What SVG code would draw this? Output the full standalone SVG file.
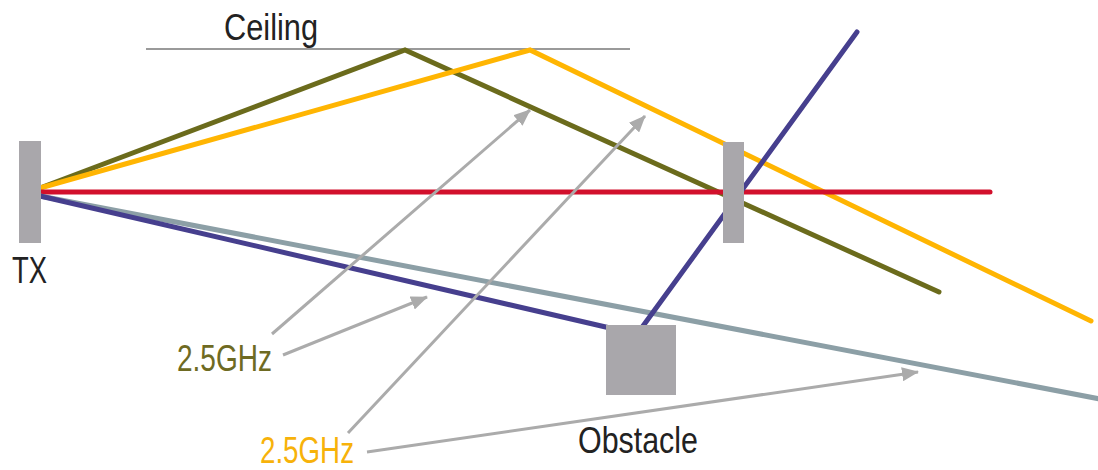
<svg xmlns="http://www.w3.org/2000/svg" width="1098" height="470" viewBox="0 0 1098 470">
<style>
.ray{fill:none;stroke-width:5;stroke-linecap:round;stroke-linejoin:miter}
.olive{stroke:#6b6b1c}
.yellow{stroke:#ffb502}
.red{stroke:#d2102c}
.blue{stroke:#463f8e}
.slate{stroke:#8c9fa6}
.ptr{stroke:#ababab;stroke-width:3;fill:none}
.block{fill:#a9a7ab}
.lbl{font-family:"Liberation Sans Narrow","Liberation Sans",Arial,sans-serif;font-size:36px;fill:#222}
</style>
<defs>
<marker id="ah" markerUnits="userSpaceOnUse" markerWidth="20" markerHeight="14" refX="16" refY="7" orient="auto">
<path d="M0,0 L17,7 L0,14 Z" fill="#ababab"/>
</marker>
</defs>
<rect width="1098" height="470" fill="#fff"/>
<g id="ceiling">
<line x1="146" y1="49" x2="630" y2="49" stroke="#9a9a9a" stroke-width="2"/>
<text class="lbl" x="224" y="40" textLength="94" lengthAdjust="spacingAndGlyphs">Ceiling</text>
</g>
<g id="connectors">
<polyline class="ray olive" points="40,188 405,50 939,292"/>
<polyline class="ray yellow" points="40,188 530,50 1091,321"/>
<line class="ray red" x1="40" y1="192" x2="990" y2="192"/>
<line class="ray slate" x1="40" y1="196" x2="1100" y2="399"/>
<line class="ray blue" x1="40" y1="196" x2="610" y2="328"/>
<line class="ray blue" x1="643" y1="326" x2="857" y2="32"/>
<line class="ptr" x1="272" y1="334" x2="530" y2="110" marker-end="url(#ah)"/>
<line class="ptr" x1="283" y1="355" x2="427" y2="297" marker-end="url(#ah)"/>
<line class="ptr" x1="348" y1="433" x2="645" y2="116" marker-end="url(#ah)"/>
<line class="ptr" x1="367" y1="452" x2="918" y2="372" marker-end="url(#ah)"/>
</g>
<g id="tx">
<rect class="block" x="19" y="141" width="22" height="102"/>
<text class="lbl" x="12" y="283" textLength="35" lengthAdjust="spacingAndGlyphs">TX</text>
</g>
<g id="receiver">
<rect class="block" x="723" y="142" width="21" height="101"/>
</g>
<g id="obstacle">
<rect class="block" x="606" y="325" width="70" height="70"/>
<text class="lbl" x="578" y="453" textLength="120" lengthAdjust="spacingAndGlyphs">Obstacle</text>
</g>
<g id="label-olive">
<text class="lbl" x="177" y="371" textLength="95" lengthAdjust="spacingAndGlyphs" style="fill:#6e6a22">2.5GHz</text>
</g>
<g id="label-yellow">
<text class="lbl" x="260" y="463" textLength="94" lengthAdjust="spacingAndGlyphs" style="fill:#f7b20a">2.5GHz</text>
</g>
</svg>
